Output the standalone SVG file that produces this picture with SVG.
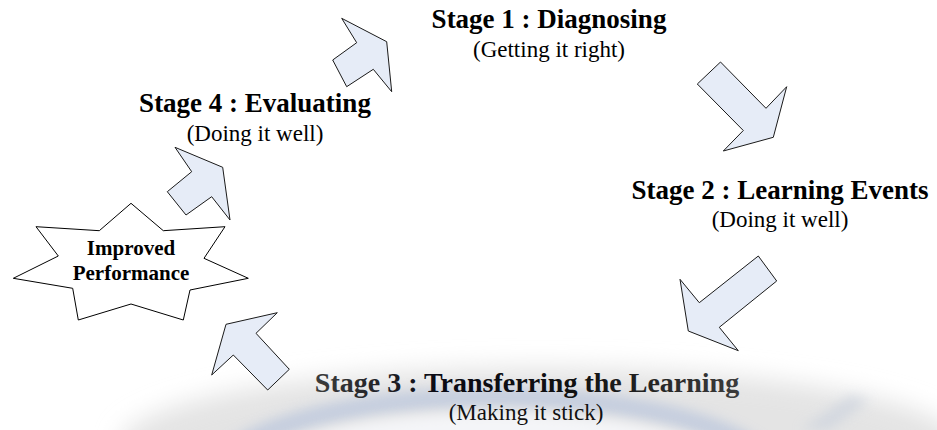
<svg xmlns="http://www.w3.org/2000/svg" width="937" height="430" viewBox="0 0 937 430">
<style>
.title{font-family:"Liberation Serif","Times New Roman",serif;font-weight:bold;font-size:27px;fill:#000;text-anchor:middle}
.sub{font-family:"Liberation Serif","Times New Roman",serif;font-size:23px;fill:#000;text-anchor:middle}
.star{font-family:"Liberation Serif","Times New Roman",serif;font-weight:bold;font-size:21px;fill:#000;text-anchor:middle}
.arrow{fill:#e6ecf7;stroke:#1a1a1a;stroke-width:1;stroke-linejoin:miter}
</style>
<defs>
<filter id="blur12" x="-20%" y="-50%" width="140%" height="200%"><feGaussianBlur stdDeviation="12"/></filter>
<filter id="blur6" x="-20%" y="-50%" width="140%" height="200%"><feGaussianBlur stdDeviation="6"/></filter>
<linearGradient id="t3" x1="314" y1="0" x2="740" y2="0" gradientUnits="userSpaceOnUse">
<stop offset="0" stop-color="#3c3c3c"/><stop offset="0.3" stop-color="#0a0a14"/><stop offset="0.62" stop-color="#111"/><stop offset="1" stop-color="#3c3c3c"/>
</linearGradient>
</defs>
<rect width="937" height="430" fill="#fff"/>
<g id="background">
<ellipse cx="540" cy="445" rx="420" ry="78" fill="#e4e4e4" filter="url(#blur12)"/>
<ellipse cx="495" cy="485" rx="285" ry="88" fill="none" stroke="#bcc7dd" stroke-width="20" opacity="0.75" filter="url(#blur6)"/>
<ellipse cx="495" cy="485" rx="258" ry="72" fill="#f4f5f8" filter="url(#blur6)"/>
<path d="M800,430 L850,395 L870,400 L830,430 Z" fill="#c9d0dd" opacity="0.6" filter="url(#blur6)"/>
</g>
<g id="connectors">
<polygon class="arrow" points="341.7,18.3 386.7,41.7 391.7,91.7 373.3,69.3 346.7,86.7 332.7,60 356.7,42.7"/>
<polygon class="arrow" points="697.3,84 720.5,62 766,108.3 786.7,86.7 773.3,137.3 723.3,151 743.3,130.5"/>
<polygon class="arrow" points="758.3,256 776.7,281 719.3,327.3 738.3,350.7 688.3,331 680,279.3 699.3,302.7"/>
<polygon class="arrow" points="226,324.3 277.3,312.7 256,333.3 289.3,369.3 267.7,390 233.3,355 211.7,375"/>
<polygon class="arrow" points="175,147.3 222.7,167.3 230,220 211.7,196.7 186,215 167.3,191.7 191.7,171.7"/>
</g>
<g id="stage1">
<text class="title" x="549" y="28">Stage 1 : Diagnosing</text>
<text class="sub" x="549" y="57">(Getting it right)</text>
</g>
<g id="stage2">
<text class="title" x="780" y="199">Stage 2 : Learning Events</text>
<text class="sub" x="780" y="227">(Doing it well)</text>
</g>
<g id="stage3">
<text class="title" x="527" y="392" style="fill:url(#t3);font-size:28px">Stage 3 : Transferring the Learning</text>
<text class="sub" x="526" y="420" style="fill:#111">(Making it stick)</text>
</g>
<g id="stage4">
<text class="title" x="255" y="112">Stage 4 : Evaluating</text>
<text class="sub" x="255" y="141">(Doing it well)</text>
</g>
<g id="improved">
<polygon points="131,203.3 163.3,230.7 225,226.7 204,258.3 248.3,278.3 190,290 183.3,320 131,304 78.3,320 72.7,288.3 13.3,278.3 58.3,256 36,226.7 99.3,230.7" fill="#fff" stroke="#000" stroke-width="1"/>
<text class="star" x="131" y="255">Improved</text>
<text class="star" x="131" y="280">Performance</text>
</g>
</svg>
